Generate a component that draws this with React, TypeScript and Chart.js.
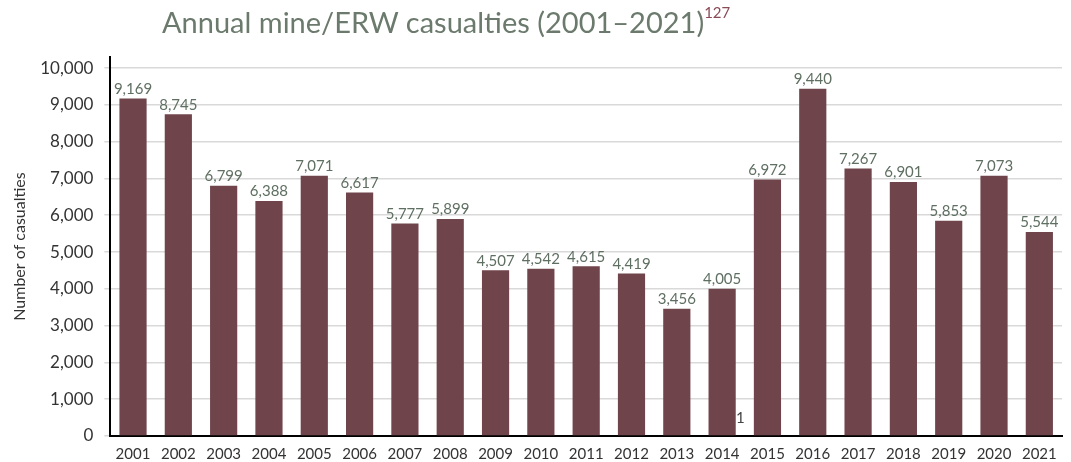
import React, { useEffect, useRef } from "react";
import { Chart, registerables } from "chart.js";

Chart.register(...registerables);

const years = ["2001","2002","2003","2004","2005","2006","2007","2008","2009","2010","2011","2012","2013","2014","2015","2016","2017","2018","2019","2020","2021"];
const casualties = [9169,8745,6799,6388,7071,6617,5777,5899,4507,4542,4615,4419,3456,4005,6972,9440,7267,6901,5853,7073,5544];
const yTicks = [0,1000,2000,3000,4000,5000,6000,7000,8000,9000,10000];
const titleText = "Annual mine/ERW casualties (2001\u20132021)";
const footnote = "127";
const yAxisTitle = "Number of casualties";
const strayMark = "1";

const BAR = "#6f444b";
const LABEL = "#5f6f62";
const FONT = "Lato, 'Open Sans', sans-serif";

const valueLabels = {
  id: "valueLabels",
  afterDatasetsDraw(chart: any) {
    const ctx = chart.ctx;
    const meta = chart.getDatasetMeta(0);
    ctx.save();
    ctx.font = `15px ${FONT}`;
    ctx.fillStyle = LABEL;
    ctx.textAlign = "center";
    ctx.textBaseline = "bottom";
    meta.data.forEach((bar: any, i: number) => {
      ctx.fillText(casualties[i].toLocaleString("en-US"), bar.x, bar.y - 2);
    });
    ctx.restore();
  },
};

export default function App() {
  const ref = useRef<HTMLCanvasElement | null>(null);
  useEffect(() => {
    document.body.style.margin = "0";
    const chart = new Chart(ref.current!, {
      type: "bar",
      data: {
        labels: years,
        datasets: [{ data: casualties, backgroundColor: BAR, barPercentage: 0.6, categoryPercentage: 1 }],
      },
      options: {
        animation: false,
        responsive: false,
        maintainAspectRatio: false,
        layout: { padding: { top: 57, right: 9, left: 10, bottom: -10 } },
        plugins: { legend: { display: false }, tooltip: { enabled: false }, title: { display: false } },
        scales: {
          x: {
            grid: { display: false, drawTicks: false },
            border: { color: "#000", width: 2 },
            ticks: { color: "#333", font: { family: FONT, size: 15 }, padding: 9, maxRotation: 0, autoSkip: false },
          },
          y: {
            min: 0,
            max: 10300,
            afterBuildTicks: (axis: any) => { axis.ticks = yTicks.map((v) => ({ value: v })); },
            grid: { color: "#d9d9d9", lineWidth: 1.5, tickLength: 6, tickColor: "#d9d9d9" },
            border: { color: "#000", width: 2 },
            ticks: {
              color: "#333",
              font: { family: FONT, size: 17 },
              padding: 11,
              callback: (v: any) => Number(v).toLocaleString("en-US"),
            },
            title: { display: true, text: yAxisTitle, color: "#333", font: { family: FONT, size: 16 }, padding: 0 },
          },
        },
      },
      plugins: [valueLabels],
    });
    return () => chart.destroy();
  }, []);
  return (
    <div style={{ position: "relative", width: 1071, height: 462, background: "#fff", fontFamily: FONT }}>
      <canvas ref={ref} width={1071} height={462} style={{ position: "absolute", left: 0, top: 0 }} />
      <div style={{ position: "absolute", left: 162, top: 4, fontSize: 29, color: "#6b7a6c", whiteSpace: "nowrap" }}>
        {titleText}
        <sup style={{ fontSize: 15, color: "#8a4a55", position: "relative", top: -4 }}>{footnote}</sup>
      </div>
      <div style={{ position: "absolute", left: 736, top: 408, fontSize: 15, color: "#444" }}>{strayMark}</div>
    </div>
  );
}
